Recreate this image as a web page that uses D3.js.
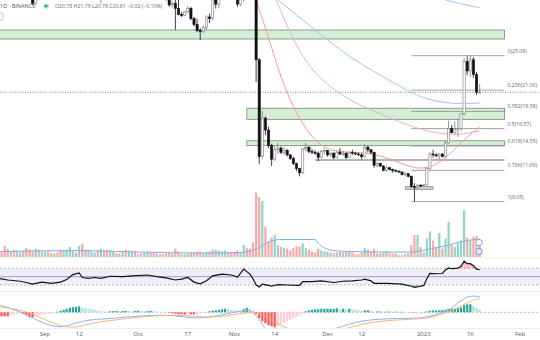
<!DOCTYPE html>
<html>
<head>
<meta charset="utf-8">
<script src="https://cdnjs.cloudflare.com/ajax/libs/d3/7.8.5/d3.min.js"></script>
<style>
    body { margin: 0; background: #fff; }
    svg { display: block; font-family: "Open Sans", "DejaVu Sans", sans-serif; }
</style>
</head>
<body>
<svg id="canvas"></svg>
<script>
// ########## Data ##########

var firstDay = "2022-08-17";
var lastDay = "2023-01-19";

var opens = [43.9,43.0,42.4,37.9,36.2,36.8,36.1,36.4,35.7,35.9,32.5,31.9,31.2,32.3,31.8,
    32.0,32.1,32.0,31.8,32.3,32.0,31.9,32.8,33.3,35.5,35.6,35.2,36.6,33.0,33.6,32.2,33.0,33.8,31.9,32.7,32.1,32.0,33.4,33.7,33.1,32.9,33.3,33.2,33.4,34.0,
    33.4,33.2,32.4,33.3,34.1,33.6,33.0,32.4,32.3,32.2,31.7,31.0,31.2,30.6,29.9,29.8,30.2,30.6,29.4,28.7,28.0,27.9,28.4,29.6,29.4,31.6,31.1,31.8,32.8,33.4,32.3,
    32.1,31.9,31.1,31.7,37.7,37.0,35.0,33.0,24.6,13.3,17.8,16.4,14.6,13.0,14.1,14.3,13.8,14.0,13.5,13.1,12.5,11.9,11.4,14.2,14.4,13.9,13.8,13.7,13.2,13.9,
    14.0,13.5,13.7,13.2,13.8,13.6,13.7,13.2,13.8,13.7,13.6,13.5,13.3,14.4,14.1,13.8,12.3,12.5,12.2,11.7,12.0,11.8,11.7,11.6,11.5,11.2,11.3,11.0,9.8,9.7,9.95,
    9.9,10.0,11.9,13.6,13.5,13.4,13.6,13.3,14.9,16.6,16.1,16.5,16.6,18.3,24.4,23.3,24.6,22.9,20.78];
var highs = [44.7,43.6,42.5,38.6,37.5,37.0,36.9,36.8,36.9,36.3,33.0,32.3,32.6,33.0,32.7,
    32.4,32.8,32.2,32.5,32.6,33.2,33.0,33.6,35.8,36.0,35.9,37.9,37.1,34.0,33.9,33.2,34.1,34.0,32.9,33.3,33.4,33.6,34.0,34.0,33.5,33.6,35.1,33.9,34.4,34.7,
    33.6,33.4,33.5,34.7,34.3,34.1,33.2,32.8,32.6,32.5,32.0,31.5,31.9,31.9,30.2,30.3,30.9,30.8,29.6,29.4,28.3,28.6,29.8,30.0,31.9,32.4,32.0,33.0,34.0,33.6,33.3,
    33.0,32.6,32.0,38.0,38.6,37.3,35.6,33.2,24.8,18.6,18.0,16.8,14.8,14.6,14.9,14.5,14.4,14.2,13.6,13.3,12.6,12.0,14.3,14.9,14.5,14.2,14.1,13.9,14.1,14.3,
    14.1,13.9,13.8,14.0,14.3,13.9,13.8,13.9,14.1,13.8,13.8,13.7,14.8,14.6,14.2,13.9,12.7,12.6,12.3,12.2,12.1,11.9,11.8,11.7,11.6,11.5,11.4,11.1,10.2,10.1,10.1,
    10.1,12.0,13.8,14.1,13.7,13.7,13.7,15.1,17.5,17.0,17.4,17.7,18.4,24.8,25.0,25.08,24.9,23.2,21.79];
var lows = [42.6,42.0,37.4,35.2,35.6,34.9,34.6,35.2,35.3,32.2,31.7,31.0,31.1,31.7,31.7,
    31.7,31.8,31.7,31.7,31.8,31.7,31.8,32.3,33.2,34.8,34.6,35.0,32.5,32.6,32.0,32.0,32.8,31.6,31.2,31.8,31.8,31.9,32.6,32.9,32.6,32.3,32.9,32.1,32.9,33.1,
    32.8,32.2,32.1,33.2,33.1,32.9,32.1,32.0,31.9,31.5,30.8,30.7,28.1,29.8,29.6,29.7,30.0,29.2,28.5,27.8,26.9,27.7,28.1,28.9,29.2,30.6,30.6,31.7,32.5,32.0,31.8,
    31.7,30.8,30.9,31.4,36.3,34.8,31.9,22.0,12.4,13.0,15.8,14.3,12.2,12.8,13.6,13.6,13.5,13.3,12.9,12.3,11.6,11.0,11.3,13.9,13.7,13.6,13.5,12.8,13.1,13.6,
    13.3,13.3,13.0,13.1,13.5,13.4,13.0,13.1,13.5,13.5,13.4,13.0,13.2,13.8,13.6,12.0,12.1,12.1,11.6,11.5,11.7,11.4,11.5,11.4,11.1,11.0,10.9,9.7,8.05,9.5,9.8,
    9.8,9.9,11.8,13.2,13.2,13.0,13.2,13.2,14.8,16.0,15.9,15.6,16.3,18.1,22.8,22.6,22.5,20.5,20.78];
var closes = [43.0,42.4,37.9,36.2,36.8,36.1,36.4,35.7,35.9,32.5,31.9,31.2,32.3,31.8,32.0,
    32.1,32.0,31.8,32.3,32.0,31.9,32.8,33.3,35.5,35.6,35.2,36.6,33.0,33.6,32.2,33.0,33.8,31.9,32.7,32.1,32.0,33.4,33.7,33.1,32.9,33.3,33.2,33.4,34.0,33.4,
    33.2,32.4,33.3,34.1,33.6,33.0,32.4,32.3,32.2,31.7,31.0,31.2,30.6,29.9,29.8,30.2,30.6,29.4,28.7,28.0,27.9,28.4,29.6,29.4,31.6,31.1,31.8,32.8,33.4,32.3,32.1,
    31.9,31.1,31.7,37.7,37.0,35.0,33.0,24.6,13.3,17.8,16.4,14.6,13.0,14.1,14.3,13.8,14.0,13.5,13.1,12.5,11.9,11.4,14.2,14.4,13.9,13.8,13.7,13.2,13.9,14.0,
    13.5,13.7,13.2,13.8,13.6,13.7,13.2,13.8,13.7,13.6,13.5,13.3,14.4,14.1,13.8,12.3,12.5,12.2,11.7,12.0,11.8,11.7,11.6,11.5,11.2,11.3,11.0,9.8,9.7,9.95,9.9,
    10.0,11.9,13.6,13.5,13.4,13.6,13.3,14.9,16.6,16.1,16.5,16.6,18.3,24.4,23.3,24.6,22.9,20.83,20.81];
var volumes = [7,5,12,9,6,8,7,5,7,10,8,6,9,8,6,
    6,6,4,4,5,8,7,7,11,7,5,12,14,8,8,6,5,7,9,7,8,7,6,4,4,6,8,7,6,6,
    3,4,5,6,5,5,4,3,3,4,5,4,9,6,3,3,4,5,5,6,6,4,5,6,8,8,7,6,7,5,5,
    5,7,5,13,10,9,16,70,65,61,33,17,21,24,13,11,10,9,7,10,12,11,15,10,8,6,5,9,7,6,
    6,5,4,5,6,5,6,6,5,3,3,5,10,8,6,9,4,4,5,6,4,4,4,2,2,3,4,13,24,24,11,
    5,20,28,18,11,26,9,20,38,13,11,15,18,51,21,18,22,23,15];
var histogram = [-0.38,-0.5,-0.5,-0.5,-0.38,-0.25,-0.19,-0.13,-0.19,-0.38,-0.63,-0.63,-0.5,-0.38,-0.31,
    -0.25,-0.19,-0.13,-0.06,0.06,0.19,0.31,0.44,0.56,0.63,0.69,0.75,0.56,0.5,0.44,0.38,0.31,0.19,0.13,0.1,0.06,0.13,0.15,0.15,0.13,0.16,0.19,0.15,0.13,0.15,
    0.19,0.16,0.13,0.15,0.19,0.15,0.1,0.06,0.04,0.01,-0.06,-0.13,-0.19,-0.25,-0.25,-0.28,-0.23,-0.25,-0.28,-0.23,-0.15,-0.08,0.04,0.13,0.19,0.25,0.31,0.38,0.44,0.38,0.31,
    0.25,0.19,0.15,0.38,0.56,0.44,0.19,-0.25,-0.75,-1.13,-1.38,-1.63,-1.75,-1.88,-1.69,-1.5,-1.31,-1.13,-0.94,-0.75,-0.56,-0.38,-0.19,0.13,0.25,0.31,0.38,0.38,0.44,0.44,
    0.44,0.44,0.44,0.5,0.38,0.44,0.38,0.44,0.38,0.31,0.25,0.19,0.25,0.25,0.19,0.1,0.1,0.1,0.08,0.08,0.09,0.08,0.08,0.06,0.06,0.05,0.04,-0.04,-0.05,-0.03,0.03,
    0.04,0.1,0.19,0.25,0.25,0.25,0.25,0.31,0.44,0.44,0.44,0.5,0.63,0.88,1.0,1.0,0.75,0.56,0.38];

var volMaPoints = [["2022-08-17",5.8],["2022-09-12",7],["2022-10-01",5.4],["2022-10-20",4.3],["2022-11-03",4.9],
    ["2022-11-08",8.7],["2022-11-12",16.3],["2022-11-16",19],["2022-11-27",19],["2022-11-28",15],["2022-11-30",10],
    ["2022-12-02",7.5],["2022-12-08",6],["2022-12-20",5.4],["2022-12-28",5.4],["2023-01-03",8.7],["2023-01-09",13],
    ["2023-01-14",17.4],["2023-01-19",19.6]];

var rsiPoints = [["2022-08-17",46],["2022-08-20",42],["2022-08-24",39],["2022-08-26",36],["2022-08-28",32],["2022-08-31",37],
    ["2022-09-03",34],["2022-09-06",37],["2022-09-08",43],["2022-09-10",55],["2022-09-12",59],["2022-09-13",48],["2022-09-15",46],
    ["2022-09-17",48],["2022-09-19",46],["2022-09-22",51],["2022-09-26",50],["2022-09-29",52],["2022-10-04",54],["2022-10-07",50],
    ["2022-10-10",47],["2022-10-13",42],["2022-10-15",44],["2022-10-17",48],["2022-10-19",37],["2022-10-21",33],["2022-10-23",40],
    ["2022-10-25",52],["2022-10-28",56],["2022-10-31",54],["2022-11-02",49],["2022-11-04",68],["2022-11-06",56],["2022-11-07",45],
    ["2022-11-08",30],["2022-11-09",25],["2022-11-10",32],["2022-11-12",29],["2022-11-13",27],["2022-11-15",31],["2022-11-18",30],
    ["2022-11-22",29],["2022-11-23",38],["2022-11-26",38],["2022-11-29",40],["2022-12-03",36],["2022-12-06",39],["2022-12-09",40],
    ["2022-12-12",42],["2022-12-13",44],["2022-12-15",40],["2022-12-16",34],["2022-12-20",34],["2022-12-25",32],["2022-12-28",27],
    ["2022-12-29",24.5],["2022-12-31",27],["2023-01-01",29],["2023-01-02",45],["2023-01-03",58],["2023-01-05",57],["2023-01-07",57.5],
    ["2023-01-08",66],["2023-01-09",71],["2023-01-10",69],["2023-01-12",70.5],["2023-01-13",75],["2023-01-14",87],["2023-01-15",81],
    ["2023-01-16",81],["2023-01-17",76],["2023-01-18",68],["2023-01-19",67]];

var macdPoints = [["2022-08-17",0.9],["2022-08-21",0.5],["2022-08-25",-0.1],["2022-08-29",-0.9],["2022-09-02",-1.6],["2022-09-06",-1.9],
    ["2022-09-09",-1.6],["2022-09-12",-1.2],["2022-09-16",-0.9],["2022-09-22",-0.8],["2022-10-01",-0.45],["2022-10-10",-0.3],
    ["2022-10-15",-0.55],["2022-10-21",-0.8],["2022-10-26",-0.45],["2022-11-01",0.0],["2022-11-05",0.3],["2022-11-07",0.1],
    ["2022-11-09",-0.9],["2022-11-11",-2.2],["2022-11-14",-3.2],["2022-11-25",-3.4],["2022-12-01",-2.4],["2022-12-04",-1.95],
    ["2022-12-12",-1.0],["2022-12-20",-0.8],["2022-12-28",-0.75],["2023-01-01",-0.7],["2023-01-05",-0.3],["2023-01-08",0.1],
    ["2023-01-10",0.5],["2023-01-12",1.2],["2023-01-14",1.7],["2023-01-16",2.1],["2023-01-19",1.95]];
var signalPoints = [["2022-08-17",0.7],["2022-08-21",0.5],["2022-08-25",0.2],["2022-08-29",-0.4],["2022-09-02",-1.1],["2022-09-06",-1.7],
    ["2022-09-10",-1.95],["2022-09-14",-1.6],["2022-09-18",-1.2],["2022-09-24",-0.95],["2022-10-01",-0.6],["2022-10-10",-0.35],
    ["2022-10-16",-0.4],["2022-10-22",-0.6],["2022-10-27",-0.6],["2022-11-02",-0.2],["2022-11-06",0.0],["2022-11-09",-0.1],
    ["2022-11-12",-0.7],["2022-11-16",-1.7],["2022-11-22",-2.6],["2022-12-01",-2.9],["2022-12-07",-2.0],["2022-12-14",-1.3],
    ["2022-12-22",-0.95],["2022-12-31",-0.85],["2023-01-04",-0.6],["2023-01-07",-0.2],["2023-01-10",0.2],["2023-01-13",0.8],
    ["2023-01-16",1.4],["2023-01-19",1.75]];

var maFast = [["2022-11-07",32.5],["2022-11-10",29.5],["2022-11-13",26.0],["2022-11-16",22.5],["2022-11-20",19.0],["2022-11-24",16.5],
    ["2022-11-28",14.8],["2022-12-02",14.0],["2022-12-08",13.8],["2022-12-14",13.75],["2022-12-20",13.2],["2022-12-26",12.3],
    ["2022-12-30",11.9],["2023-01-03",12.0],["2023-01-08",13.0],["2023-01-13",15.0],["2023-01-19",16.8]];
var maMid = [["2022-11-14",32.0],["2022-11-22",25.0],["2022-12-01",21.5],["2022-12-10",19.5],["2022-12-20",18.0],
    ["2022-12-28",16.8],["2023-01-05",16.0],["2023-01-12",15.8],["2023-01-19",16.3]];
var maSlow = [["2022-11-15",31.6],["2022-11-27",28.1],["2022-12-09",24.6],["2022-12-22",22.0],["2022-12-31",20.1],
    ["2023-01-10",19.4],["2023-01-19",19.55]];
var maLong = [["2023-01-07",31.7],["2023-01-13",31.1],["2023-01-19",30.7]];

var fibLabels = ["0", "0.236", "0.382", "0.5", "0.618", "0.786", "1"];
var fibPrices = [25.08, 21.06, 18.58, 16.57, 14.55, 11.69, 8.05];
var fibRange = ["2022-12-28", "2023-01-27"];

// zones: [start, end, top price, bottom price]
var zoneStarts = ["2022-08-01", "2022-11-05", "2022-11-05"];
var zoneEnds = ["2023-01-27", "2023-01-27", "2023-01-27"];
var zoneTops = [28.08, 18.95, 15.15];
var zoneBottoms = [27.03, 17.65, 14.58];

var supportLine = [["2022-11-27", 12.9], ["2023-01-27", 12.9]];
var supportBox = [["2022-12-26", 9.8], ["2023-01-04", 9.45]];
var lastPrice = 20.81;

var tickDates = ["2022-09-01","2022-09-12","2022-10-01","2022-10-17","2022-11-01","2022-11-14",
    "2022-12-01","2022-12-12","2023-01-01","2023-01-16","2023-02-01"];
var tickLabels = ["Sep","12","Oct","17","Nov","14","Dec","12","2023","16","Feb"];

// ########## Setup ##########

var w = 540;
var h = 340;
var parseDay = d3.timeParse("%Y-%m-%d");
var days = d3.timeDay.range(parseDay(firstDay), d3.timeDay.offset(parseDay(lastDay), 1));

var svg = d3.select("#canvas")
    .attr("width", w)
    .attr("height", h);

var defs = svg.append("defs");
function addClip(id, y0, y1) {
    defs.append("clipPath").attr("id", id)
        .append("rect").attr("x", 0).attr("y", y0).attr("width", w).attr("height", y1 - y0);
}
addClip("clip-main", 0, 257.5);
addClip("clip-rsi", 258.5, 291);
addClip("clip-macd", 292, 328);

var x = d3.scaleTime()
    .domain([parseDay("2022-09-01"), parseDay("2023-02-01")])
    .range([45, 520]);
var y = d3.scaleLinear().domain([8.05, 25.08]).range([201.6, 55.7]);
var yVol = d3.scaleLinear().domain([0, 100]).range([257, 165]);
var yRsi = d3.scaleLinear().domain([30, 70]).range([285, 268.3]);
var yMacd = d3.scaleLinear().domain([0, 1]).range([312.3, 304.3]);

var bars = days.map(function (d, i) {
    return { date: d, o: opens[i], h: highs[i], l: lows[i], c: closes[i], v: volumes[i], hist: histogram[i], i: i };
});
var bw = 2.2;

function pts(list) { return list.map(function (p) { return { date: parseDay(p[0]), v: p[1] }; }); }

// ########## Main pane ##########

var main = svg.append("g").attr("clip-path", "url(#clip-main)");

// zones
main.selectAll(".zone")
    .data(zoneTops).enter()
    .append("rect")
    .attr("class", "zone")
    .attr("x", function (d, i) { return x(parseDay(zoneStarts[i])); })
    .attr("width", function (d, i) { return x(parseDay(zoneEnds[i])) - x(parseDay(zoneStarts[i])); })
    .attr("y", function (d) { return y(d); })
    .attr("height", function (d, i) { return y(zoneBottoms[i]) - y(d); })
    .attr("fill", "#d6eed6")
    .attr("stroke", "#6f8a6f")
    .attr("stroke-width", 0.8);

// fib levels
var fibX0 = x(parseDay(fibRange[0]));
var fibX1 = x(parseDay(fibRange[1]));
main.selectAll(".fib")
    .data(fibPrices).enter()
    .append("line")
    .attr("x1", fibX0).attr("x2", fibX1)
    .attr("y1", function (d) { return y(d); })
    .attr("y2", function (d) { return y(d); })
    .attr("stroke", "#8a8a8a")
    .attr("stroke-width", 0.8);

main.append("line")
    .attr("x1", x(parseDay(supportLine[0][0]))).attr("x2", x(parseDay(supportLine[1][0])))
    .attr("y1", y(supportLine[0][1])).attr("y2", y(supportLine[1][1]))
    .attr("stroke", "#6a6a6a").attr("stroke-width", 1.1);

main.append("rect")
    .attr("x", x(parseDay(supportBox[0][0])))
    .attr("width", x(parseDay(supportBox[1][0])) - x(parseDay(supportBox[0][0])))
    .attr("y", y(supportBox[0][1]))
    .attr("height", y(supportBox[1][1]) - y(supportBox[0][1]))
    .attr("fill", "#c8c8c8").attr("stroke", "#888").attr("stroke-width", 0.6);

// moving averages
var maLine = d3.line()
    .x(function (d) { return x(d.date); })
    .y(function (d) { return y(d.v); })
    .curve(d3.curveBasis);
[[maFast, "#f29a9a"], [maMid, "#e4b3c4"], [maSlow, "#9fc6ea"], [maLong, "#9fc6ea"]].forEach(function (m) {
    main.append("path")
        .attr("d", maLine(pts(m[0])))
        .attr("fill", "none")
        .attr("stroke", m[1])
        .attr("stroke-width", 1);
});

// volume
main.selectAll(".vol")
    .data(bars).enter()
    .append("rect")
    .attr("class", "vol")
    .attr("x", function (d) { return x(d.date) - bw / 2; })
    .attr("width", bw)
    .attr("y", function (d) { return yVol(d.v); })
    .attr("height", function (d) { return yVol(0) - yVol(d.v); })
    .attr("fill", function (d) { return d.c >= d.o ? "#93d3cb" : "#f6a9a6"; });

main.append("path")
    .attr("d", d3.line()
        .x(function (d) { return x(d.date); })
        .y(function (d) { return yVol(d.v); })
        .curve(d3.curveMonotoneX)(pts(volMaPoints)))
    .attr("fill", "none")
    .attr("stroke", "#86aee6")
    .attr("stroke-width", 1);

// last price line
main.append("line")
    .attr("x1", 0).attr("x2", w)
    .attr("y1", y(lastPrice)).attr("y2", y(lastPrice))
    .attr("stroke", "#666")
    .attr("stroke-width", 0.8)
    .attr("stroke-dasharray", "1,1.5");

// candles
var candle = main.selectAll(".candle")
    .data(bars).enter()
    .append("g")
    .attr("class", "candle");

candle.append("line")
    .attr("x1", function (d) { return x(d.date); })
    .attr("x2", function (d) { return x(d.date); })
    .attr("y1", function (d) { return y(d.h); })
    .attr("y2", function (d) { return y(d.l); })
    .attr("stroke", function (d) { return d.c >= d.o ? "#7a7a7a" : "#111"; })
    .attr("stroke-width", 0.8);

candle.append("rect")
    .attr("x", function (d) { return x(d.date) - bw / 2; })
    .attr("width", bw)
    .attr("y", function (d) { return y(Math.max(d.o, d.c)); })
    .attr("height", function (d) { return Math.max(0.8, Math.abs(y(d.o) - y(d.c))); })
    .attr("fill", function (d) { return d.c >= d.o ? "#fff" : "#111"; })
    .attr("stroke", function (d) { return d.c >= d.o ? "#7a7a7a" : "#111"; })
    .attr("stroke-width", 0.6);

// fib labels
svg.selectAll(".fib-label")
    .data(fibPrices).enter()
    .append("text")
    .attr("x", fibX1 + 3)
    .attr("y", function (d) { return y(d) - 3; })
    .attr("font-size", 5.2)
    .attr("fill", "#666")
    .text(function (d, i) { return fibLabels[i] + "(" + d.toFixed(2) + ")"; });

// volume badges
svg.append("circle").attr("cx", 479).attr("cy", 242.5).attr("r", 3.2)
    .attr("fill", "#fff").attr("stroke", "#b08fd8").attr("stroke-width", 1);
svg.append("circle").attr("cx", 479).attr("cy", 251.5).attr("r", 3.2)
    .attr("fill", "#e9e4f7").attr("stroke", "#9a86d6").attr("stroke-width", 1);

// ########## Legend ##########

svg.append("text")
    .attr("x", 0).attr("y", 8)
    .attr("font-size", 5.6).attr("fill", "#555")
    .text("1D · BINANCE");
svg.append("circle").attr("cx", 46).attr("cy", 6).attr("r", 3).attr("fill", "#c9ece6");
svg.append("circle").attr("cx", 46).attr("cy", 6).attr("r", 1.6).attr("fill", "#26a69a");
svg.append("text")
    .attr("x", 55).attr("y", 8)
    .attr("font-size", 5.2).attr("fill", "#666")
    .text("O20.78  H21.79  L20.78  C20.81  −0.02 (−0.10%)");
svg.append("rect").attr("x", -2).attr("y", 13).attr("width", 5).attr("height", 7)
    .attr("rx", 1).attr("fill", "none").attr("stroke", "#9aa7c7").attr("stroke-width", 0.6);

// ########## Panes ##########

[257.8, 291.5, 328.5].forEach(function (py) {
    svg.append("line").attr("x1", 0).attr("x2", w).attr("y1", py).attr("y2", py)
        .attr("stroke", "#e6e8ee").attr("stroke-width", 0.8);
});

// ########## RSI ##########

var rsi = svg.append("g").attr("clip-path", "url(#clip-rsi)");
var rsiData = pts(rsiPoints);

rsi.append("rect")
    .attr("x", 0).attr("width", w)
    .attr("y", yRsi(70)).attr("height", yRsi(30) - yRsi(70))
    .attr("fill", "#7e57c2").attr("fill-opacity", 0.1);
[70, 30].forEach(function (lv) {
    rsi.append("line").attr("x1", 0).attr("x2", w).attr("y1", yRsi(lv)).attr("y2", yRsi(lv))
        .attr("stroke", "#8a8d99").attr("stroke-width", 0.6).attr("stroke-dasharray", "2,2");
});
rsi.append("line").attr("x1", 0).attr("x2", w).attr("y1", yRsi(50)).attr("y2", yRsi(50))
    .attr("stroke", "#9284c8").attr("stroke-width", 0.8);

rsi.append("path")
    .attr("d", d3.area()
        .x(function (d) { return x(d.date); })
        .y0(yRsi(70))
        .y1(function (d) { return yRsi(Math.max(d.v, 70)); })(rsiData))
    .attr("fill", "#f23645").attr("fill-opacity", 0.3);
rsi.append("path")
    .attr("d", d3.area()
        .x(function (d) { return x(d.date); })
        .y0(yRsi(30))
        .y1(function (d) { return yRsi(Math.min(d.v, 30)); })(rsiData))
    .attr("fill", "#089981").attr("fill-opacity", 0.4);

rsi.append("path")
    .attr("d", d3.line()
        .x(function (d) { return x(d.date); })
        .y(function (d) { return yRsi(d.v); })(rsiData))
    .attr("fill", "none")
    .attr("stroke", "#111")
    .attr("stroke-width", 1.2);

// ########## MACD ##########

var macd = svg.append("g").attr("clip-path", "url(#clip-macd)");

macd.append("line").attr("x1", 0).attr("x2", w).attr("y1", yMacd(0)).attr("y2", yMacd(0))
    .attr("stroke", "#9a9a9a").attr("stroke-width", 0.6).attr("stroke-dasharray", "2,2");

macd.selectAll(".hist")
    .data(bars).enter()
    .append("rect")
    .attr("class", "hist")
    .attr("x", function (d) { return x(d.date) - bw / 2; })
    .attr("width", bw)
    .attr("y", function (d) { return yMacd(Math.max(0, d.hist)); })
    .attr("height", function (d) { return Math.abs(yMacd(d.hist) - yMacd(0)); })
    .attr("fill", function (d) {
        var prev = d.i > 0 ? histogram[d.i - 1] : 0;
        if (d.hist >= 0) return d.hist >= prev ? "#26a69a" : "#b2dfdb";
        return d.hist <= prev ? "#ff5252" : "#ffcdd2";
    });

var macdLine = d3.line()
    .x(function (d) { return x(d.date); })
    .y(function (d) { return yMacd(d.v); })
    .curve(d3.curveBasis);
macd.append("path").attr("d", macdLine(pts(macdPoints)))
    .attr("fill", "none").attr("stroke", "#8fb2ee").attr("stroke-width", 1);
macd.append("path").attr("d", macdLine(pts(signalPoints)))
    .attr("fill", "none").attr("stroke", "#f7b585").attr("stroke-width", 1);

// ########## Time axis ##########

svg.selectAll(".tick-label")
    .data(tickDates).enter()
    .append("text")
    .attr("x", function (d) { return x(parseDay(d)); })
    .attr("y", 336)
    .attr("text-anchor", "middle")
    .attr("font-size", 6)
    .attr("fill", "#555")
    .text(function (d, i) { return tickLabels[i]; });
</script>
</body>
</html>
